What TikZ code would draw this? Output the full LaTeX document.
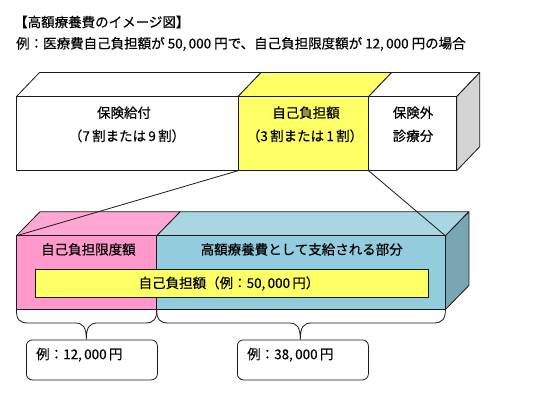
\documentclass[tikz,border=0pt]{standalone}
\usepackage{fontspec}
\setmainfont{Noto Sans CJK JP}[FakeBold=0.35]
\definecolor{ylw}{HTML}{FFFF66}
\definecolor{pinkf}{HTML}{FF99CC}
\definecolor{pinkt}{HTML}{FFA6D2}
\definecolor{bluef}{HTML}{93CDDD}
\definecolor{bluet}{HTML}{A8D6E2}
\definecolor{blues}{HTML}{78A6B3}
\definecolor{grays}{HTML}{D4D4D4}
\definecolor{edge}{HTML}{1A1A1A}
\begin{document}
\begin{tikzpicture}[x=1pt,y=-1pt,line join=round,
  txt/.style={font=\fontsize{13.5}{16}\selectfont, inner sep=0pt, text=black},
  face/.style={draw=edge, line width=0.8pt},
  link/.style={draw=edge, line width=0.8pt},
  brace/.style={draw=edge, line width=0.8pt},
  valbox/.style={draw=edge, line width=0.8pt, rounded corners=6pt, fill=white, inner sep=0pt,
    minimum width=131pt, minimum height=40pt, anchor=north west}]
\useasboundingbox[fill=white] (0,0) rectangle (535,419);

% titles
\node[txt, anchor=west] (title) at (14,22) {【高額療養費のイメージ図】};
\node[txt, anchor=west] (sub) at (16,44) {例：医療費自己負担額が 50,\,000 円で、自己負担限度額が 12,\,000 円の場合};

% ---- top bar ----
\path[face, fill=white] (16.4,96.6) -- (39.4,72.6) -- (261,72.6) -- (238,96.6) -- cycle;
\path[face, fill=ylw] (238,96.6) -- (261,72.6) -- (391.6,72.6) -- (368.6,96.6) -- cycle;
\path[face, fill=white] (368.6,96.6) -- (391.6,72.6) -- (479.7,72.6) -- (456.7,96.6) -- cycle;
\path[face, fill=grays] (456.7,96.6) -- (479.7,72.6) -- (479.7,146.7) -- (456.7,170.7) -- cycle;
\path[face, fill=white] (16.4,96.6) rectangle (238,170.7);
\path[face, fill=ylw] (238,96.6) rectangle (368.6,170.7);
\path[face, fill=white] (368.6,96.6) rectangle (456.7,170.7);

\node[txt] (hk) at (124,112.7) {保険給付};
\node[txt] (hkr) at (127,135.9) {（7\,割または\,9\,割）};
\node[txt] (jf) at (306,112.7) {自己負担額};
\node[txt] (jfr) at (305,135.9) {（3\,割または\,1\,割）};
\node[txt] (hg) at (413,112.7) {保険外};
\node[txt] (sr) at (413,135.9) {診療分};

% ---- bottom bar ----
\path[face, fill=pinkt] (16.4,235.8) -- (39.9,211.8) -- (180.2,211.8) -- (156.7,235.8) -- cycle;
\path[face, fill=bluet] (156.7,235.8) -- (180.2,211.8) -- (468.9,211.8) -- (445.4,235.8) -- cycle;
\path[face, fill=blues] (445.4,235.8) -- (468.9,211.8) -- (468.9,285.5) -- (445.4,309.5) -- cycle;
\path[face, fill=pinkf] (16.4,235.8) rectangle (156.7,309.5);
\path[face, fill=bluef] (156.7,235.8) rectangle (445.4,309.5);
\path[face, fill=ylw] (35.8,269.9) rectangle (428.3,297.9);

\node[txt] (gd) at (88.4,249.4) {自己負担限度額};
\node[txt] (kg) at (301.7,249.4) {高額療養費として支給される部分};
\node[txt] (jr) at (229,283.5) {自己負担額（例：50,\,000\,円）};

% ---- connectors ----
\coordinate (ybl) at (238,170.7);
\coordinate (ybr) at (368.6,170.7);
\coordinate (bbl) at (16.4,235.8);
\coordinate (bbr) at (445.4,235.8);
\draw[link] (ybl) -- (bbl);
\draw[link] (ybr) -- (bbr);

% ---- braces ----
\draw[brace] (16.4,309.5) .. controls (16.4,319) and (19,323) .. (28,323) -- (75,323)
  .. controls (83,323) and (86.3,327) .. (86.3,339.5)
  .. controls (86.3,327) and (89.6,323) .. (97.6,323) -- (145,323)
  .. controls (154,323) and (156.7,319) .. (156.7,309.5);
\draw[brace] (156.7,309.5) .. controls (156.7,319) and (159.4,323) .. (168.4,323) -- (289,323)
  .. controls (297,323) and (300.3,327) .. (300.3,339.5)
  .. controls (300.3,327) and (303.6,323) .. (311.6,323) -- (433.4,323)
  .. controls (442.4,323) and (445.4,319) .. (445.4,309.5);

% ---- value boxes ----
\node[valbox] (box1) at (26,339.5) {};
\node[valbox] (box2) at (237,339.5) {};
\node[txt, anchor=west] (v1) at (36,354.8) {例：12,\,000\,円};
\node[txt, anchor=west] (v2) at (247,354.8) {例：38,\,000\,円};
\end{tikzpicture}
\end{document}
